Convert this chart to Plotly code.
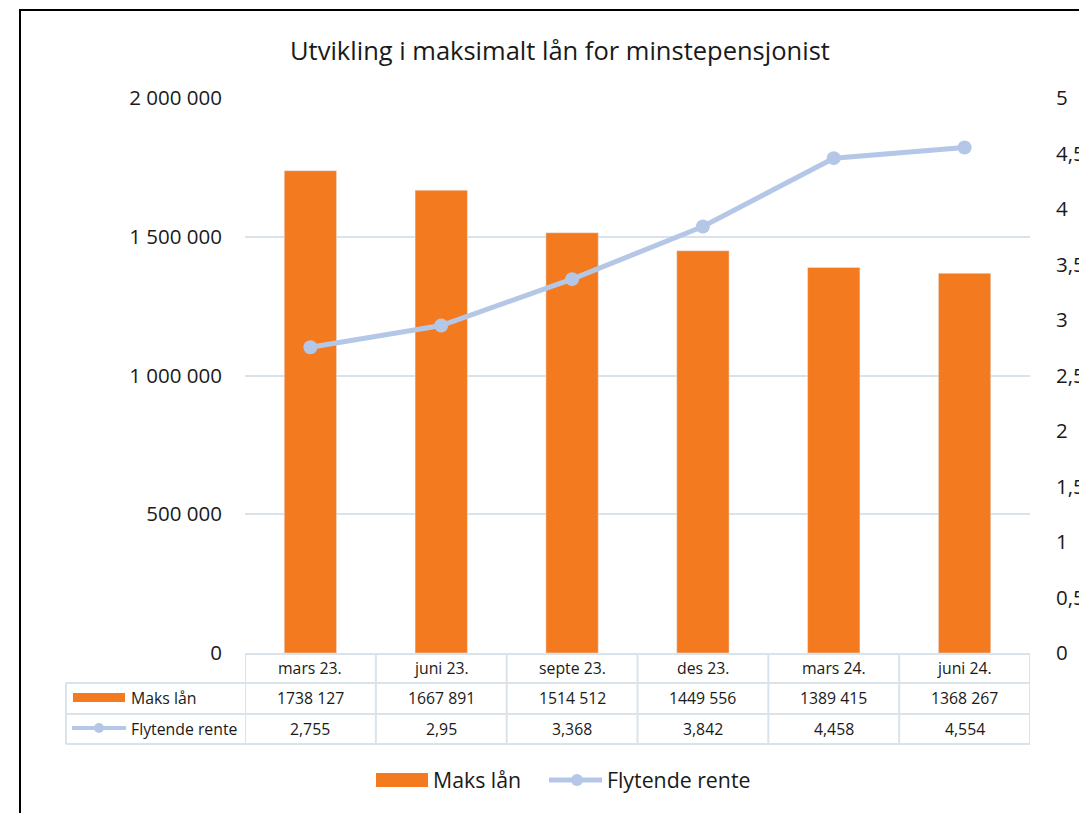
import plotly.graph_objects as go

categories = ["mars 23.", "juni 23.", "septe 23.", "des 23.", "mars 24.", "juni 24."]
maks_laan = [1738127, 1667891, 1514512, 1449556, 1389415, 1368267]
flytende_rente = [2.755, 2.95, 3.368, 3.842, 4.458, 4.554]
left_ticks = [0, 500000, 1000000, 1500000, 2000000]
right_ticks = [0, 0.5, 1, 1.5, 2, 2.5, 3, 3.5, 4, 4.5, 5]

BAR_COLOR = "#F47A20"
LINE_COLOR = "#B4C7E7"
GRID_COLOR = "#D9E3EC"
TXT = "#1a1a1a"
FONT = "Open Sans"

W_FIG, H_FIG = 1079, 813
L, R, T, B = 245, 1030, 98, 653


def px(x):
    return (x - L) / (R - L)


def py(y):
    return (B - y) / (B - T)


def fmt_int(v):
    return f"{v // 1000} {v % 1000:03d}"


def fmt_dec(v):
    return f"{v:g}".replace(".", ",")


idx = list(range(len(categories)))

fig = go.Figure()
fig.add_trace(go.Bar(x=idx, y=maks_laan, name="Maks lån", marker_color=BAR_COLOR,
                     width=0.4, yaxis="y", showlegend=False))
fig.add_trace(go.Scatter(x=idx, y=flytende_rente, name="Flytende rente", mode="lines+markers",
                         line=dict(color=LINE_COLOR, width=5), marker=dict(size=14, color=LINE_COLOR),
                         yaxis="y2", showlegend=False))

shapes = []
annotations = []

# outer frame
shapes.append(dict(type="rect", xref="paper", yref="paper", x0=px(20), x1=px(1120), y0=py(860), y1=py(10),
                   line=dict(color="black", width=2), fillcolor="rgba(0,0,0,0)", layer="above"))

# title
annotations.append(dict(text="Utvikling i maksimalt lån for minstepensjonist", xref="paper", yref="paper",
                        x=px(560), y=py(50), xanchor="center", yanchor="middle", showarrow=False,
                        font=dict(family=FONT, size=25.5, color=TXT)))

# data table grid
lw = 2
y_top, y_r1, y_r2, y_bot = 654, 683, 714, 744
x_lab = 66
shapes.append(dict(type="line", xref="x", yref="paper", x0=-0.5, x1=len(categories) - 0.5,
                   y0=py(y_top), y1=py(y_top), line=dict(color=GRID_COLOR, width=lw)))
for yy in (y_r1, y_r2, y_bot):
    shapes.append(dict(type="line", xref="paper", yref="paper", x0=px(x_lab), x1=1,
                       y0=py(yy), y1=py(yy), line=dict(color=GRID_COLOR, width=lw)))
shapes.append(dict(type="line", xref="paper", yref="paper", x0=px(x_lab), x1=px(x_lab),
                   y0=py(y_r1), y1=py(y_bot), line=dict(color=GRID_COLOR, width=lw)))
for i in range(len(categories) + 1):
    shapes.append(dict(type="line", xref="x", yref="paper", x0=i - 0.5, x1=i - 0.5,
                       y0=py(y_top), y1=py(y_bot), line=dict(color=GRID_COLOR, width=lw)))

tfont = dict(family=FONT, size=15.8, color=TXT)
for i, c in enumerate(categories):
    annotations.append(dict(text=c, xref="x", yref="paper", x=i, y=py(668), showarrow=False,
                            xanchor="center", yanchor="middle", font=tfont))
    annotations.append(dict(text=fmt_int(maks_laan[i]), xref="x", yref="paper", x=i, y=py(698),
                            showarrow=False, xanchor="center", yanchor="middle", font=tfont))
    annotations.append(dict(text=fmt_dec(flytende_rente[i]), xref="x", yref="paper", x=i, y=py(729),
                            showarrow=False, xanchor="center", yanchor="middle", font=tfont))

# table legend keys
shapes.append(dict(type="rect", xref="paper", yref="paper", x0=px(73), x1=px(125), y0=py(702), y1=py(693),
                   fillcolor=BAR_COLOR, line=dict(width=0)))
annotations.append(dict(text="Maks lån", xref="paper", yref="paper", x=px(129), y=py(698), showarrow=False,
                        xanchor="left", yanchor="middle", font=tfont))
shapes.append(dict(type="line", xref="paper", yref="paper", x0=px(72), x1=px(126), y0=py(728), y1=py(728),
                   line=dict(color=LINE_COLOR, width=4)))
shapes.append(dict(type="circle", xref="paper", yref="paper", x0=px(94), x1=px(104), y0=py(733), y1=py(723),
                   fillcolor=LINE_COLOR, line=dict(width=0)))
annotations.append(dict(text="Flytende rente", xref="paper", yref="paper", x=px(129), y=py(729),
                        showarrow=False, xanchor="left", yanchor="middle", font=tfont))

# bottom legend
lfont = dict(family=FONT, size=21.3, color=TXT)
shapes.append(dict(type="rect", xref="paper", yref="paper", x0=px(376), x1=px(428), y0=py(787), y1=py(773),
                   fillcolor=BAR_COLOR, line=dict(width=0)))
annotations.append(dict(text="Maks lån", xref="paper", yref="paper", x=px(431), y=py(780), showarrow=False,
                        xanchor="left", yanchor="middle", font=lfont))
shapes.append(dict(type="line", xref="paper", yref="paper", x0=px(549), x1=px(602), y0=py(780), y1=py(780),
                   line=dict(color=LINE_COLOR, width=5)))
shapes.append(dict(type="circle", xref="paper", yref="paper", x0=px(571), x1=px(583), y0=py(786), y1=py(774),
                   fillcolor=LINE_COLOR, line=dict(width=0)))
annotations.append(dict(text="Flytende rente", xref="paper", yref="paper", x=px(605), y=py(780),
                        showarrow=False, xanchor="left", yanchor="middle", font=lfont))

fig.update_layout(
    width=W_FIG, height=H_FIG,
    margin=dict(l=L, r=W_FIG - R, t=T, b=H_FIG - B, pad=0),
    paper_bgcolor="white", plot_bgcolor="white",
    separators=", ",
    font=dict(family=FONT, color=TXT),
    bargap=0.6,
    xaxis=dict(range=[-0.5, len(categories) - 0.5], showticklabels=False, showgrid=False,
               zeroline=False, showline=False, ticks="", automargin=False),
    yaxis=dict(range=[0, 2000000], tickvals=left_ticks, tickformat=",d", showgrid=True,
               gridcolor=GRID_COLOR, gridwidth=2, zeroline=False, showline=False, ticks="",
               tickfont=dict(family=FONT, size=20.5, color=TXT), ticklabelstandoff=22,
               automargin=False),
    yaxis2=dict(range=[0, 5], tickvals=right_ticks, overlaying="y", side="right", showgrid=False,
                zeroline=False, showline=False, ticks="",
                tickfont=dict(family=FONT, size=20.5, color=TXT), ticklabelstandoff=25,
                automargin=False),
    shapes=shapes,
    annotations=annotations,
)

fig.write_html(
    "out.html",
    config={"responsive": False, "displayModeBar": False},
    post_script="document.body.style.margin='0';document.body.style.overflow='hidden';",
)
